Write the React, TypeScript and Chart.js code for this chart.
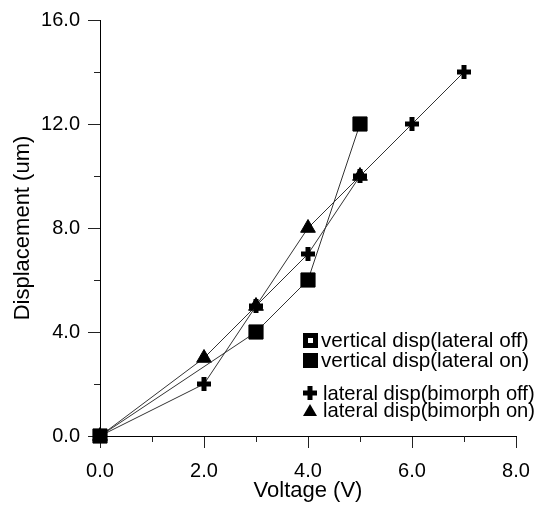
import React, { useEffect, useRef } from 'react';
import { Chart, registerables } from 'chart.js';

Chart.register(...registerables);

const FONT = '"Liberation Sans", Arial, Helvetica, sans-serif';

// Data
const vertOffX: number[] = [];
const vertOffY: number[] = [];
const vertOnX = [0, 3, 4, 5];
const vertOnY = [0, 4, 6, 12];
const latOffX = [0, 2, 3, 4, 5, 6, 7];
const latOffY = [0, 2, 5, 7, 10, 12, 14];
const latOnX = [0, 2, 3, 4, 5];
const latOnY = [0, 3, 5, 8, 10];

const seriesLabels = [
  'vertical disp(lateral off)',
  'vertical disp(lateral on)',
  'lateral disp(bimorph off)',
  'lateral disp(bimorph on)',
];

const xMinorTicks = [1, 3, 5, 7];
const yMinorTicks = [2, 6, 10, 14];

const toPoints = (xs: number[], ys: number[]) => xs.map((x, i) => ({ x, y: ys[i] }));

export default function App() {
  const ref = useRef<HTMLCanvasElement>(null);

  useEffect(() => {
    if (!ref.current) return;

    const minorPlugin = {
      id: 'minorTicks',
      afterDraw(chart: any) {
        const { ctx, scales, chartArea } = chart;
        ctx.save();
        ctx.strokeStyle = '#222';
        ctx.lineWidth = 1;
        xMinorTicks.forEach((v) => {
          const px = Math.round(scales.x.getPixelForValue(v)) + 0.5;
          ctx.beginPath();
          ctx.moveTo(px, chartArea.bottom);
          ctx.lineTo(px, chartArea.bottom + 6);
          ctx.stroke();
        });
        yMinorTicks.forEach((v) => {
          const py = Math.round(scales.y.getPixelForValue(v)) + 0.5;
          ctx.beginPath();
          ctx.moveTo(chartArea.left - 6, py);
          ctx.lineTo(chartArea.left, py);
          ctx.stroke();
        });
        ctx.restore();
      },
    };

    const legendPlugin = {
      id: 'customLegend',
      afterDraw(chart: any) {
        const { ctx } = chart;
        const baselines = [347, 367, 400, 417];
        const mx = 310;
        const tx = 321;
        ctx.save();
        ctx.textBaseline = 'alphabetic';
        chart.data.datasets.forEach((ds: any, i: number) => {
          const by = baselines[i];
          const cy = by - 7;
          ctx.fillStyle = '#000';
          if (i === 0) {
            ctx.fillRect(mx - 7, cy - 7, 15, 15);
            ctx.fillStyle = '#fff';
            ctx.fillRect(mx - 2, cy - 2, 5, 5);
          } else if (i === 1) {
            ctx.fillRect(mx - 7, cy - 7, 15, 15);
          } else if (i === 2) {
            ctx.fillRect(mx - 7, cy - 2.5, 14, 5);
            ctx.fillRect(mx - 2.5, cy - 7, 5, 14);
          } else {
            ctx.beginPath();
            ctx.moveTo(mx, cy - 6);
            ctx.lineTo(mx + 7, cy + 6);
            ctx.lineTo(mx - 7, cy + 6);
            ctx.closePath();
            ctx.fill();
          }
          ctx.fillStyle = '#000';
          ctx.font = `${i >= 2 ? 20.2 : 20.7}px ${FONT}`;
          ctx.fillText(ds.label, tx + (i >= 2 ? 2 : 0), by);
        });
        ctx.restore();
      },
    };

    const lineColor = '#333';

    const chart = new Chart(ref.current, {
      type: 'scatter',
      data: {
        datasets: [
          {
            label: seriesLabels[0],
            data: toPoints(vertOffX, vertOffY),
            showLine: true,
            borderColor: lineColor,
            borderWidth: 1,
            pointStyle: 'rect',
            pointRadius: 10,
            backgroundColor: '#fff',
            pointBorderColor: '#000',
            pointBorderWidth: 3,
            clip: false,
          },
          {
            label: seriesLabels[1],
            data: toPoints(vertOnX, vertOnY),
            showLine: true,
            borderColor: lineColor,
            borderWidth: 1,
            pointStyle: 'rect',
            pointRadius: 10,
            pointBackgroundColor: '#000',
            pointBorderColor: '#000',
            pointBorderWidth: 1,
            clip: false,
          },
          {
            label: seriesLabels[2],
            data: toPoints(latOffX, latOffY),
            showLine: true,
            borderColor: lineColor,
            borderWidth: 1,
            pointStyle: 'cross',
            pointRadius: 7,
            pointBackgroundColor: '#000',
            pointBorderColor: '#000',
            pointBorderWidth: 5,
            clip: false,
          },
          {
            label: seriesLabels[3],
            data: toPoints(latOnX, latOnY),
            showLine: true,
            borderColor: lineColor,
            borderWidth: 1,
            pointStyle: 'triangle',
            pointRadius: 8.5,
            pointBackgroundColor: '#000',
            pointBorderColor: '#000',
            pointBorderWidth: 1,
            clip: false,
          },
        ],
      },
      options: {
        animation: false,
        responsive: false,
        devicePixelRatio: 1,
        layout: { padding: { top: 20, right: 27, left: 0, bottom: 0 } },
        plugins: {
          legend: { display: false },
          tooltip: { enabled: false },
        },
        scales: {
          x: {
            type: 'linear',
            min: 0,
            max: 8,
            afterFit(scale: any) {
              scale.height = 71;
            },
            ticks: {
              stepSize: 2,
              padding: 11,
              color: '#000',
              font: { family: FONT, size: 20 },
              callback: (v: any) => Number(v).toFixed(1),
            },
            grid: {
              drawOnChartArea: false,
              drawTicks: true,
              tickLength: 12,
              color: '#222',
            },
            border: { display: true, color: '#000', width: 1 },
            title: {
              display: true,
              text: 'Voltage (V)',
              color: '#000',
              font: { family: FONT, size: 22 },
              padding: { top: 0, bottom: 3 },
            },
          },
          y: {
            type: 'linear',
            min: 0,
            max: 16,
            afterFit(scale: any) {
              scale.width = 100;
            },
            ticks: {
              stepSize: 4,
              padding: 8,
              color: '#000',
              font: { family: FONT, size: 20 },
              callback: (v: any) => Number(v).toFixed(1),
            },
            grid: {
              drawOnChartArea: false,
              drawTicks: true,
              tickLength: 12,
              color: '#222',
            },
            border: { display: true, color: '#000', width: 1 },
            title: {
              display: true,
              text: 'Displacement (um)',
              color: '#000',
              font: { family: FONT, size: 22 },
              padding: { top: 10, bottom: 0 },
            },
          },
        },
      },
      plugins: [minorPlugin, legendPlugin],
    } as any);

    return () => chart.destroy();
  }, []);

  return (
    <div style={{ position: 'absolute', left: 0, top: 0, width: 543, height: 507 }}>
      <canvas ref={ref} width={543} height={507} style={{ display: 'block' }} />
    </div>
  );
}
